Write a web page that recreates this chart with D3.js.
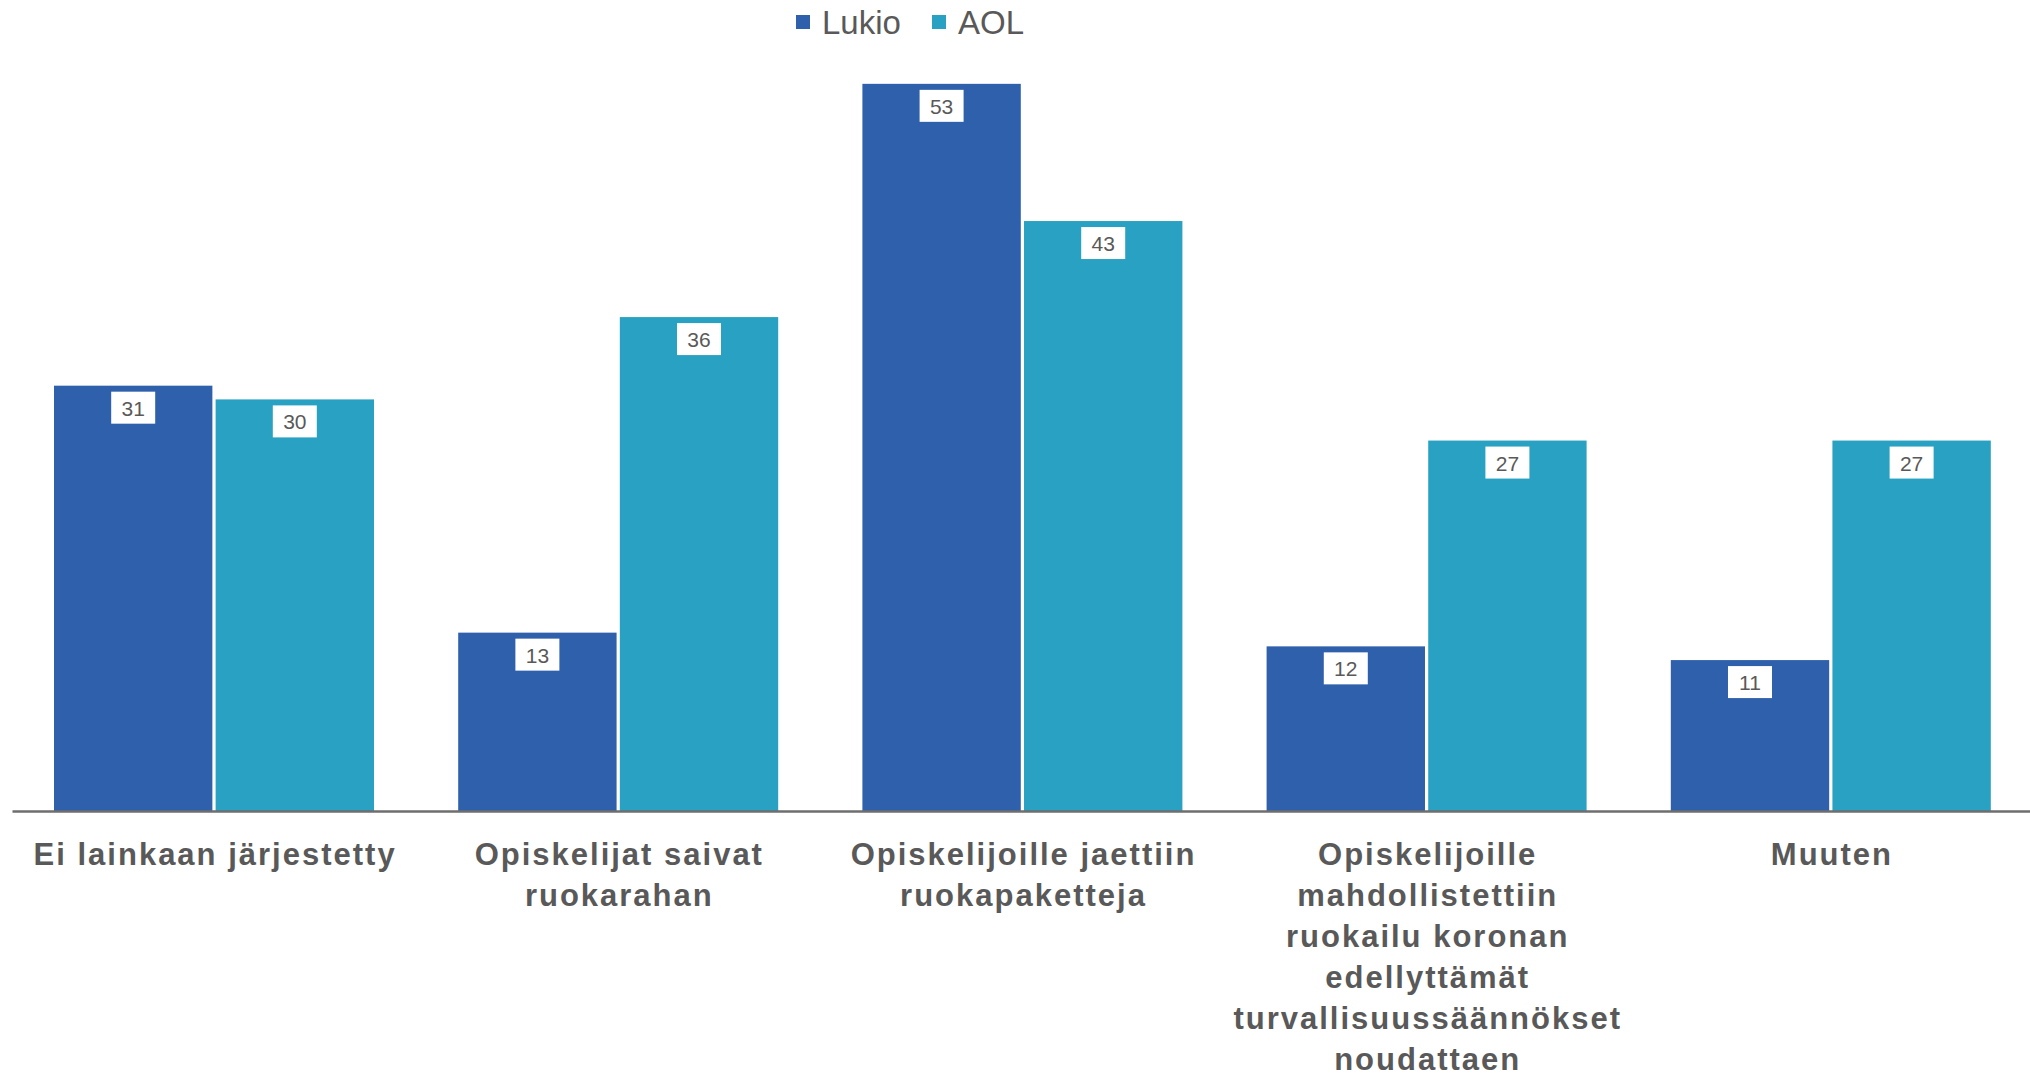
<!DOCTYPE html>
<html>
<head>
<meta charset="utf-8">
<script src="https://cdn.jsdelivr.net/npm/d3@7"></script>
<style>
  html, body { margin: 0; padding: 0; background: #ffffff; }
  svg { display: block; }
</style>
</head>
<body>
<svg id="chart" width="2030" height="1076"></svg>
<script>
const categories = [
  "Ei lainkaan järjestetty",
  "Opiskelijat saivat ruokarahan",
  "Opiskelijoille jaettiin ruokapaketteja",
  "Opiskelijoille mahdollistettiin ruokailu koronan edellyttämät turvallisuussäännökset noudattaen",
  "Muuten"
];
const categoryLines = [
  ["Ei lainkaan järjestetty"],
  ["Opiskelijat saivat", "ruokarahan"],
  ["Opiskelijoille jaettiin", "ruokapaketteja"],
  ["Opiskelijoille", "mahdollistettiin", "ruokailu koronan", "edellyttämät", "turvallisuussäännökset", "noudattaen"],
  ["Muuten"]
];
const seriesNames = ["Lukio", "AOL"];
const lukioValues = [31, 13, 53, 12, 11];
const aolValues = [30, 36, 43, 27, 27];
const seriesColors = ["#2f60ab", "#29a1c3"];

const svg = d3.select("#chart");
const baseline = 811;
const textColor = "#595959";

const x = d3.scaleBand().domain(categories).range([12, 2033]).padding(0);
const xInner = d3.scaleBand().domain(seriesNames).range([42, 362]).paddingInner(0.02);
const y = d3.scaleLinear().domain([0, 55]).range([baseline, baseline - 55 * 13.72]);

const data = categories.map((c, i) => ({
  cat: c,
  vals: [
    { s: "Lukio", v: lukioValues[i], color: seriesColors[0] },
    { s: "AOL", v: aolValues[i], color: seriesColors[1] }
  ]
}));

const groups = svg.append("g").selectAll("g.grp")
  .data(data).join("g")
  .attr("class", "grp")
  .attr("transform", d => `translate(${x(d.cat)},0)`);

groups.selectAll("rect.bar")
  .data(d => d.vals).join("rect")
  .attr("class", "bar")
  .attr("x", d => xInner(d.s))
  .attr("width", xInner.bandwidth())
  .attr("y", d => y(d.v))
  .attr("height", d => y(0) - y(d.v))
  .attr("fill", d => d.color);

// value labels
const lbl = groups.selectAll("g.lbl")
  .data(d => d.vals).join("g")
  .attr("class", "lbl")
  .attr("transform", d => `translate(${xInner(d.s) + xInner.bandwidth() / 2},${y(d.v) + 6})`);
lbl.append("rect")
  .attr("x", -22).attr("y", 0).attr("width", 44).attr("height", 32)
  .attr("fill", "#ffffff");
lbl.append("text")
  .attr("x", 0).attr("y", 24)
  .attr("text-anchor", "middle")
  .attr("font-family", "Liberation Sans, Arial, sans-serif")
  .attr("font-size", 21)
  .attr("fill", textColor)
  .text(d => d.v);

// axis
const axis = svg.append("g")
  .attr("transform", `translate(0,${baseline})`)
  .call(d3.axisBottom(x).tickSize(0).tickSizeOuter(0));
axis.select(".domain").attr("stroke", "#6e6e6e").attr("stroke-width", 2.5);
axis.selectAll(".tick text").each(function(d, i) {
  const t = d3.select(this);
  t.text(null)
    .attr("y", 0).attr("dy", null)
    .attr("font-family", "Liberation Sans, Arial, sans-serif")
    .attr("font-size", 31)
    .attr("font-weight", "bold")
    .attr("letter-spacing", 2)
    .attr("fill", textColor);
  const idx = categories.indexOf(d);
  categoryLines[idx].forEach((line, j) => {
    t.append("tspan").attr("x", 1).attr("y", 54 + j * 41).text(line);
  });
});

// legend
const legend = svg.append("g").attr("font-family", "Liberation Sans, Arial, sans-serif");
const legendX = [796, 932];
seriesNames.forEach((s, i) => {
  legend.append("rect")
    .attr("x", legendX[i]).attr("y", 15).attr("width", 14).attr("height", 14)
    .attr("fill", seriesColors[i]);
  legend.append("text")
    .attr("x", legendX[i] + 26).attr("y", 34)
    .attr("font-size", 33)
    .attr("fill", textColor)
    .text(s);
});
</script>
</body>
</html>
